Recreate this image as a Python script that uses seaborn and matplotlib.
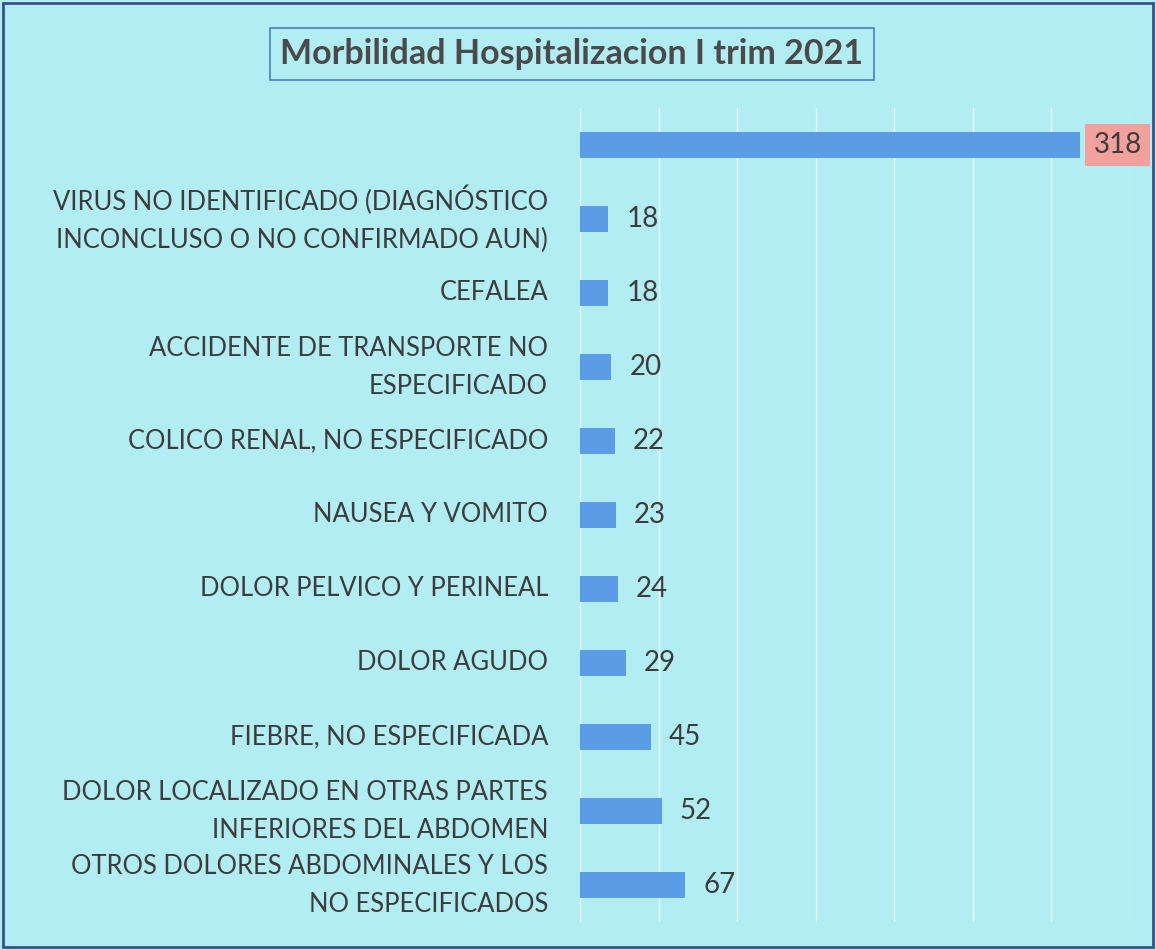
import matplotlib
matplotlib.use("Agg")
import matplotlib.pyplot as plt
import seaborn as sns
import pandas as pd

categories = [
    "",
    "VIRUS NO IDENTIFICADO (DIAGNÓSTICO\nINCONCLUSO O NO CONFIRMADO AUN)",
    "CEFALEA",
    "ACCIDENTE DE TRANSPORTE NO\nESPECIFICADO",
    "COLICO RENAL, NO ESPECIFICADO",
    "NAUSEA Y VOMITO",
    "DOLOR PELVICO Y PERINEAL",
    "DOLOR AGUDO",
    "FIEBRE, NO ESPECIFICADA",
    "DOLOR LOCALIZADO EN OTRAS PARTES\nINFERIORES DEL ABDOMEN",
    "OTROS DOLORES ABDOMINALES Y LOS\nNO ESPECIFICADOS",
]
values = [318, 18, 18, 20, 22, 23, 24, 29, 45, 52, 67]

df = pd.DataFrame({"cat": categories, "val": values})

bg = "#b2edf3"
bar_color = "#5a9de6"
text_color = "#3c3c3c"

sns.set_theme(style="white")
plt.rcParams["font.family"] = ["Lato", "DejaVu Sans"]

fig = plt.figure(figsize=(11.56, 9.5), dpi=100, facecolor=bg)
ax = fig.add_axes([580 / 1156, 1 - 922 / 950, 550 / 1156, 814 / 950])
ax.set_facecolor(bg)

sns.barplot(data=df, x="val", y="cat", color=bar_color, saturation=1,
            width=0.34, ax=ax, orient="h", edgecolor="none", linewidth=0)

ax.set_xlim(0, 350)
ax.set_xticks(range(0, 351, 50))
ax.grid(axis="x", color="#e8fbfd", linewidth=1.0)
ax.set_axisbelow(True)
ax.tick_params(axis="x", bottom=False, labelbottom=False)
ax.tick_params(axis="y", left=False, labelsize=18.4, labelcolor=text_color, pad=17)
for lbl in ax.get_yticklabels():
    lbl.set_horizontalalignment("right")
    lbl.set_verticalalignment("center")
    lbl.set_linespacing(1.65)
for s in ax.spines.values():
    s.set_visible(False)
ax.set_xlabel("")
ax.set_ylabel("")

for i, v in enumerate(values):
    if i == 0:
        ax.annotate(str(v), (v, i), xytext=(10, 0), textcoords="offset points",
                    va="center", ha="left", fontsize=20, color=text_color,
                    bbox=dict(boxstyle="square,pad=0.3", fc="#f2a19c", ec="none"))
    else:
        ax.annotate(str(v), (v, i), xytext=(13, 0), textcoords="offset points",
                    va="center", ha="left", fontsize=20, color=text_color)

fig.text(572 / 1156, 1 - 54 / 950, "Morbilidad Hospitalizacion I trim 2021",
         ha="center", va="center", fontsize=24.5, fontweight="bold", color="#4a4a4a",
         bbox=dict(boxstyle="square,pad=0.3", fc=bg, ec="#4a7fc0", lw=1.2))

# outer frame
frame = plt.Rectangle((0.003, 0.003), 0.994, 0.994, transform=fig.transFigure,
                      fill=False, ec="#3a4f8a", lw=2)
fig.patches.append(frame)

fig.savefig("out.png", dpi=100, facecolor=bg)
